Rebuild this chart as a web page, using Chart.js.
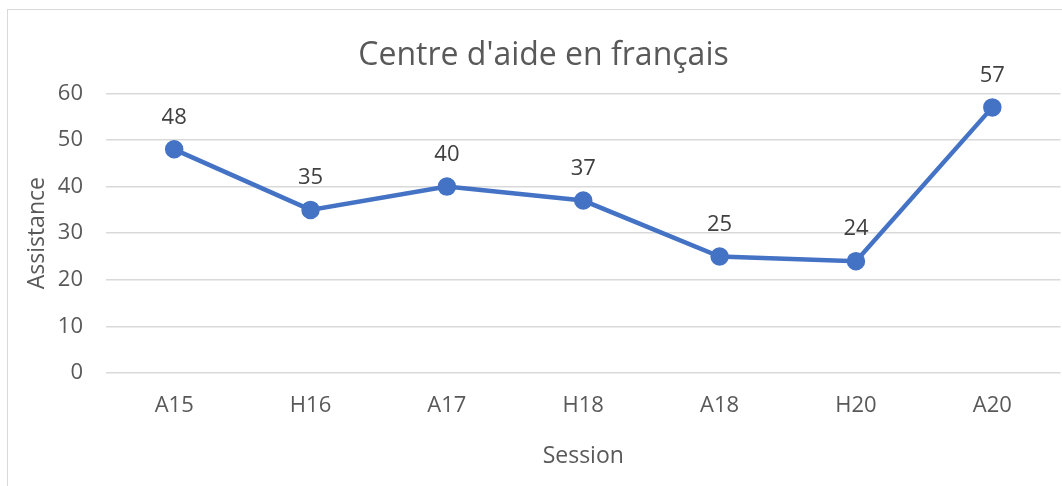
<!DOCTYPE html>
<html>
<head>
<meta charset="utf-8">
<script src="https://cdn.jsdelivr.net/npm/chart.js@4"></script>
<style>
  html, body { margin: 0; padding: 0; background: #fff; overflow: hidden; }
  #box {
    position: absolute; left: 7px; top: 9px;
    width: 1064px; height: 480px;
    border-left: 1px solid #d9d9d9; border-top: 1px solid #d9d9d9;
  }
</style>
</head>
<body>
<div id="box"><canvas id="myChart" width="1064" height="480"></canvas></div>
<script>
var sessions = ["A15", "H16", "A17", "H18", "A18", "H20", "A20"];
var assistance = [48, 35, 40, 37, 25, 24, 57];
var yTicks = [0, 10, 20, 30, 40, 50, 60];

var fontFamily = "'Open Sans', 'Noto Sans', sans-serif";

// write the value above each point
var pointLabels = {
    id: "pointLabels",
    afterDatasetsDraw: function (chart) {
        var ctx = chart.ctx;
        var meta = chart.getDatasetMeta(0);
        ctx.save();
        ctx.font = "22px " + fontFamily;
        ctx.fillStyle = "#404040";
        ctx.textAlign = "center";
        ctx.textBaseline = "middle";
        meta.data.forEach(function (pt, i) {
            ctx.fillText(assistance[i], pt.x, pt.y - 32);
        });
        ctx.restore();
    }
};

new Chart("myChart", {
    type: "line",
    data: {
        labels: sessions,
        datasets: [{
            data: assistance,
            borderColor: "#4472C4",
            backgroundColor: "#4472C4",
            borderWidth: 4.5,
            pointRadius: 7,
            pointHoverRadius: 7,
            fill: false,
            tension: 0
        }]
    },
    options: {
        responsive: false,
        animation: false,
        devicePixelRatio: 1,
        layout: { padding: { left: 16, right: 9, bottom: 20, top: 0 } },
        plugins: {
            legend: { display: false },
            tooltip: { enabled: false },
            title: {
                display: true,
                text: "Centre d'aide en français",
                color: "#595959",
                font: { family: fontFamily, size: 32, weight: "normal" },
                padding: { top: 27, bottom: 18 }
            }
        },
        scales: {
            x: {
                offset: true,
                grid: { display: false, drawTicks: false },
                border: { display: false },
                ticks: { color: "#595959", font: { family: fontFamily, size: 22 }, padding: 20 },
                title: {
                    display: true,
                    text: "Session",
                    color: "#595959",
                    font: { family: fontFamily, size: 23 },
                    padding: { top: 3, bottom: 0 }
                }
            },
            y: {
                min: 0,
                max: 60,
                afterBuildTicks: function (axis) {
                    axis.ticks = yTicks.map(function (v) { return { value: v }; });
                },
                afterFit: function (axis) {
                    axis.width = 82;
                },
                grid: { color: "#d9d9d9", lineWidth: 1.5, drawTicks: false },
                border: { display: false },
                ticks: { color: "#595959", font: { family: fontFamily, size: 22 }, padding: 23 },
                title: {
                    display: true,
                    text: "Assistance",
                    color: "#595959",
                    font: { family: fontFamily, size: 23 },
                    padding: { top: 0, bottom: 0 }
                }
            }
        }
    },
    plugins: [pointLabels]
});
</script>
</body>
</html>
